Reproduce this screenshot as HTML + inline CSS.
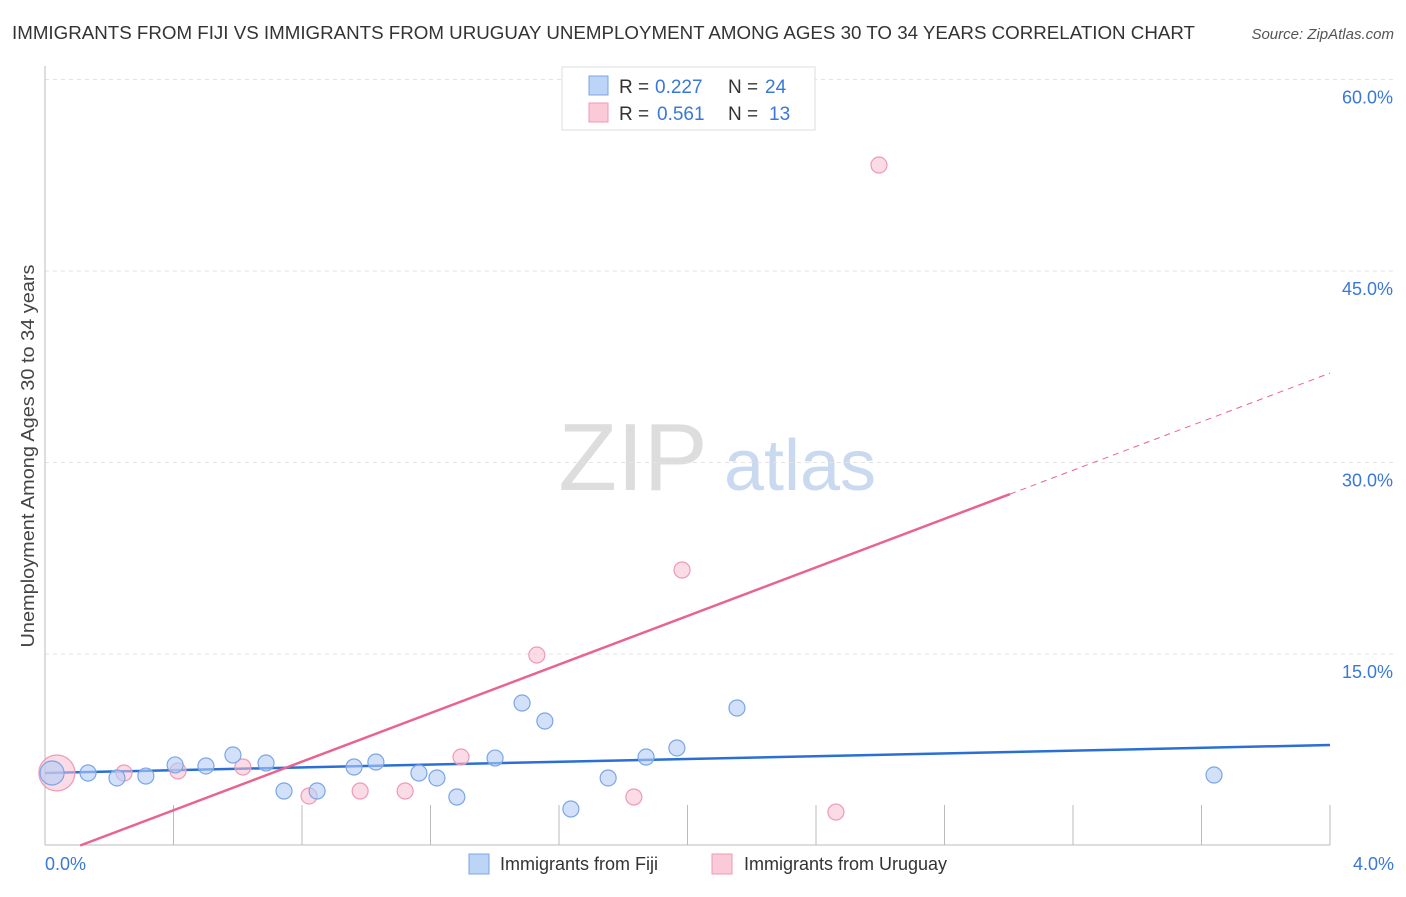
<!DOCTYPE html>
<html><head><meta charset="utf-8">
<style>
body{margin:0;background:#fff;font-family:"Liberation Sans",sans-serif;}
svg text{font-family:"Liberation Sans",sans-serif;}
</style></head>
<body>
<svg id="chart" width="1406" height="892" xmlns="http://www.w3.org/2000/svg">
<text x="12" y="39" font-size="18" fill="#333" textLength="1183" lengthAdjust="spacingAndGlyphs">IMMIGRANTS FROM FIJI VS IMMIGRANTS FROM URUGUAY UNEMPLOYMENT AMONG AGES 30 TO 34 YEARS CORRELATION CHART</text>
<text x="1394" y="39" font-size="15" fill="#555" font-style="italic" text-anchor="end">Source: ZipAtlas.com</text>
<text x="34" y="456" font-size="18" fill="#444" text-anchor="middle" textLength="383" lengthAdjust="spacingAndGlyphs" transform="rotate(-90 34 456)">Unemployment Among Ages 30 to 34 years</text>
<g>
<text x="633" y="490" font-size="96" fill="#ddd" font-family="Liberation Serif" text-anchor="middle">ZIP</text>
<text x="800" y="490" font-size="72" fill="#c9d9f0" text-anchor="middle">atlas</text>
</g>
<g id="grid"></g>
<g id="axes"></g>
<g id="lines"></g>
<g id="points"></g>
<g>
<rect x="562" y="67" width="253" height="63" fill="#fff" stroke="#ddd"/>
<rect x="589" y="76" width="19" height="19" fill="#bcd4f5" stroke="#7aa6e6"/>
<text x="619" y="93" font-size="19" fill="#333">R =</text>
<text x="655" y="93" font-size="19" fill="#3a78d8">0.227</text>
<text x="728" y="93" font-size="19" fill="#333">N =</text>
<text x="765" y="93" font-size="19" fill="#3a78d8">24</text>
<rect x="589" y="103" width="19" height="19" fill="#fbcad8" stroke="#ee9ab5"/>
<text x="619" y="120" font-size="19" fill="#333">R =</text>
<text x="657" y="120" font-size="19" fill="#3a78d8">0.561</text>
<text x="728" y="120" font-size="19" fill="#333">N =</text>
<text x="769" y="120" font-size="19" fill="#3a78d8">13</text>
</g>
<g>
<rect x="469" y="854" width="20" height="20" fill="#bcd4f5" stroke="#7aa6e6"/>
<text x="500" y="870" font-size="18" fill="#333">Immigrants from Fiji</text>
<rect x="712" y="854" width="20" height="20" fill="#fbcad8" stroke="#ee9ab5"/>
<text x="744" y="870" font-size="18" fill="#333">Immigrants from Uruguay</text>
</g>
</svg>
<script>
const fijiX=[0.022,0.134,0.224,0.314,0.405,0.501,0.585,0.688,0.744,0.847,0.962,1.030,1.164,1.220,1.282,1.401,1.485,1.556,1.637,1.753,1.871,1.967,2.154,3.639];
const fijiY=[5.68,5.68,5.29,5.44,6.31,6.23,7.09,6.46,4.27,4.27,6.15,6.54,5.68,5.29,3.80,6.85,11.16,9.75,2.86,5.29,6.93,7.64,10.77,5.52];
const uruX=[0.037,0.246,0.414,0.616,0.822,0.981,1.121,1.295,1.531,1.833,1.983,2.462,2.596];
const uruY=[5.68,5.68,5.84,6.15,3.88,4.27,4.27,6.93,14.92,3.80,21.58,2.62,53.3];
const yTicks=[15,30,45,60];
const yTickLabels=["15.0%","30.0%","45.0%","60.0%"];
const xTickLabels=["0.0%","4.0%"];
const fijiTrend=[5.68,7.87];
const uruTrend=[-1.04,9.51];
const NS="http://www.w3.org/2000/svg";
const sx=v=>45+v/4*1285;
const sy=v=>845.5-v/15*191.5;
function mk(tag,attrs,parent){const e=document.createElementNS(NS,tag);for(const k in attrs)e.setAttribute(k,attrs[k]);document.getElementById(parent).appendChild(e);return e;}
yTicks.forEach((t,i)=>{
 const l=mk('line',{x1:45,x2:1394,y1:sy(t),y2:sy(t),stroke:'#e3e3e3','stroke-dasharray':'4,4'},'grid');
 
 
 const tx=mk('text',{x:1393,y:sy(t)+24,'font-size':18,fill:'#3a78d8','text-anchor':'end'},'grid');
 tx.textContent=yTickLabels[i];
 
 
});
mk('line',{x1:45,x2:45,y1:66,y2:845,stroke:'#bbb'},'axes');
mk('line',{x1:45,x2:1330,y1:845,y2:845,stroke:'#bbb'},'axes');
for(let i=0;i<=10;i++){const x=45+i*128.5;mk('line',{x1:x,x2:x,y1:805,y2:845,stroke:'#bbb'},'axes');}
[[0,xTickLabels[0],'start',45],[4,xTickLabels[1],'end',1394]].forEach(a=>{
 const t=mk('text',{x:a[3],y:870,'font-size':18,fill:'#3a78d8','text-anchor':a[2]},'axes');
 t.textContent=a[1];
 
 
});
const bl=mk('line',{x1:sx(0),y1:sy(fijiTrend[0]),x2:sx(4),y2:sy(fijiTrend[1]),stroke:'#2a6fd6','stroke-width':2.5},'lines');


const ux0=-uruTrend[0]/uruTrend[1], ux1=3.004;
const pl=mk('line',{x1:sx(ux0),y1:sy(0),x2:sx(ux1),y2:sy(uruTrend[0]+uruTrend[1]*ux1),stroke:'#e8648f','stroke-width':2.5},'lines');


const pd=mk('line',{x1:sx(ux1),y1:sy(uruTrend[0]+uruTrend[1]*ux1),x2:sx(4),y2:sy(uruTrend[0]+uruTrend[1]*4),stroke:'#e8648f','stroke-width':1,'stroke-dasharray':'6,5'},'lines');


uruX.forEach((x,i)=>{
 const c=mk('circle',{cx:sx(x),cy:sy(uruY[i]),r:i===0?18:8,fill:'rgba(248,190,208,0.55)',stroke:'#ee9ab5','stroke-width':1.2},'points');
 
 
});
fijiX.forEach((x,i)=>{
 const c=mk('circle',{cx:sx(x),cy:sy(fijiY[i]),r:i===0?12:8,fill:'rgba(180,205,245,0.6)',stroke:'#7aa6e6','stroke-width':1.2},'points');
 
 
});
</script>
</body></html>
